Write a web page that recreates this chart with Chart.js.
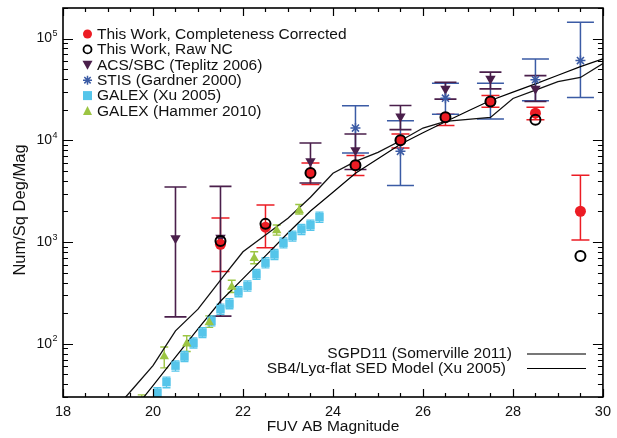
<!DOCTYPE html>
<html>
<head>
<meta charset="utf-8">
<script src="https://cdn.jsdelivr.net/npm/chart.js@4/dist/chart.umd.min.js"></script>
<style>
  html, body { margin: 0; padding: 0; background: #fff; }
</style>
</head>
<body>
<canvas id="numCounts" width="617" height="438"></canvas>
<script>
let fontFam = '"Liberation Sans", Arial, Helvetica, sans-serif';

// This work (FUV number counts)
let thisMag = [21.5, 22.5, 23.5, 24.5, 25.5, 26.5, 27.5, 28.5, 29.5];
let corrNC = [950, 1400, 4780, 5700, 10000, 16900, 24100, 18500, 2010];
let corrHi = [1720, 2310, 5985, 7080, 11530, 18100, 27600, 21100, 4540];
let corrLo = [515, 880, 3680, 4510, 8410, 14000, 21100, 15950, 1050];
let rawNC = [1025, 1510, 4780, 5700, 10000, 16900, 24100, 15950, 730];

// ACS/SBC (Teplitz 2006)
let acsMag = [20.5, 21.5, 23.5, 24.5, 25.5, 26.5, 27.5, 28.5];
let acsNC = [1090, 1100, 6220, 7980, 17200, 32100, 40300, 32100];
let acsHi = [3480, 3530, 9420, 11530, 22000, 37300, 46800, 43300];
let acsLo = [184, 187, 3810, 5170, 12740, 25400, 32100, 24100];

// STIS (Gardner 2000)
let stisMag = [24.5, 25.5, 26.5, 27.5, 28.5, 29.5];
let stisNC = [13200, 7800, 26000, 24000, 39400, 60800];
let stisHi = [21900, 15600, 36500, 36500, 63200, 144500];
let stisLo = [7520, 3600, 18100, 16200, 24500, 26400];

// GALEX (Xu 2005)
let xuMag = [20.1, 20.3, 20.5, 20.7, 20.9, 21.1, 21.3, 21.5, 21.7, 21.9, 22.1, 22.3, 22.5, 22.7, 22.9, 23.1, 23.3, 23.5, 23.7];
let xuNC = [33, 42, 61, 75, 102, 129, 168, 219, 248, 326, 371, 482, 627, 757, 984, 1146, 1333, 1469, 1758];
let xuHi = [37, 47, 68, 84, 114, 144, 188, 245, 278, 365, 415, 540, 702, 848, 1100, 1283, 1493, 1645, 1969];
let xuLo = [29, 37, 54, 67, 91, 115, 150, 195, 221, 290, 330, 429, 558, 674, 876, 1020, 1186, 1307, 1565];

// GALEX (Hammer 2010)
let hamMag = [19.75, 20.25, 20.75, 21.25, 21.75, 22.25, 22.75, 23.25];
let hamNC = [26, 75, 100, 162, 362, 692, 1300, 2040];
let hamHi = [31.5, 93, 120, 188, 422, 803, 1470, 2345];
let hamLo = [22, 58, 84, 145, 319, 612, 1170, 1890];

// model curves
let modelMag = [19, 19.5, 20, 20.5, 21, 21.5, 22, 22.5, 23, 23.5, 24, 24.5, 25, 25.5, 26, 26.5, 27, 27.5, 28, 28.5, 29, 29.5, 30];
let sgpd11 = [19, 34, 61, 134, 219, 423, 803, 1172, 1717, 2760, 4745, 6220, 7620, 9910, 13210, 15350, 16070, 16810, 25810, 31240, 37850, 41500, 56900];
let sb4 = [10.5, 20.5, 38.8, 73.8, 140, 262, 438, 733, 1228, 2018, 3090, 4745, 6590, 9140, 11890, 15240, 19450, 24660, 29780, 35950, 43650, 53100, 63200];

let xTicks = [18, 20, 22, 24, 26, 28, 30];
let yDecades = [2, 3, 4, 5];

let red = '#EC1C24';
let purple = '#4A1F4B';
let stisBlue = '#3B5BA5';
let xuBlue = '#55C5EA';
let green = '#9CC543';

function pts(xs, ys) {
  return xs.map((v, i) => ({ x: v, y: ys[i] }));
}

// vertical error bars with caps, placed through the y scale
const errorBars = {
  id: 'errorBars',
  beforeDatasetsDraw(chart) {
    const { ctx, chartArea: a } = chart;
    const y = chart.scales.y;
    ctx.save();
    ctx.beginPath();
    ctx.rect(a.left, a.top, a.width, a.height);
    ctx.clip();
    chart.data.datasets.forEach((ds, i) => {
      if (!ds.errHi) return;
      const meta = chart.getDatasetMeta(i);
      ctx.strokeStyle = ds.errColor;
      ctx.lineWidth = ds.errWidth;
      meta.data.forEach((pt, j) => {
        const yt = y.getPixelForValue(ds.errHi[j]);
        const yb = y.getPixelForValue(ds.errLo[j]);
        const h = ds.capHalf;
        ctx.beginPath();
        ctx.moveTo(pt.x, yt); ctx.lineTo(pt.x, yb);
        ctx.moveTo(pt.x - h, yt); ctx.lineTo(pt.x + h, yt);
        ctx.moveTo(pt.x - h, yb); ctx.lineTo(pt.x + h, yb);
        ctx.stroke();
      });
    });
    ctx.restore();
  }
};

function marker(ctx, kind, x, y) {
  ctx.save();
  ctx.beginPath();
  if (kind === 'dot') {
    ctx.fillStyle = red;
    ctx.arc(x, y, 4.5, 0, Math.PI * 2);
    ctx.fill();
  } else if (kind === 'ring') {
    ctx.strokeStyle = '#000'; ctx.lineWidth = 1.8;
    ctx.arc(x, y, 4, 0, Math.PI * 2);
    ctx.stroke();
  } else if (kind === 'down') {
    ctx.fillStyle = purple;
    ctx.moveTo(x - 5, y - 4); ctx.lineTo(x + 5, y - 4); ctx.lineTo(x, y + 5);
    ctx.closePath(); ctx.fill();
  } else if (kind === 'star') {
    ctx.strokeStyle = stisBlue; ctx.lineWidth = 1.5;
    for (let k = 0; k < 4; k++) {
      const an = k * Math.PI / 4;
      ctx.moveTo(x - 4.5 * Math.cos(an), y - 4.5 * Math.sin(an));
      ctx.lineTo(x + 4.5 * Math.cos(an), y + 4.5 * Math.sin(an));
    }
    ctx.stroke();
  } else if (kind === 'square') {
    ctx.fillStyle = xuBlue;
    ctx.fillRect(x - 4.5, y - 4.5, 9, 9);
  } else if (kind === 'up') {
    ctx.fillStyle = green;
    ctx.moveTo(x - 4.5, y + 4); ctx.lineTo(x + 4.5, y + 4); ctx.lineTo(x, y - 5);
    ctx.closePath(); ctx.fill();
  }
  ctx.restore();
}

// frame, inward ticks, y labels, axis titles and the two legends
const frameAndText = {
  id: 'frameAndText',
  afterDraw(chart) {
    const { ctx, chartArea: a } = chart;
    const x = chart.scales.x, y = chart.scales.y;
    ctx.save();
    ctx.strokeStyle = '#000';
    ctx.lineWidth = 1.2;
    ctx.beginPath();
    for (let m = x.min; m <= x.max; m += 0.5) {
      const px = Math.round(x.getPixelForValue(m)) + 0.5;
      const len = m % 2 === 0 ? 8 : 4;
      ctx.moveTo(px, a.bottom); ctx.lineTo(px, a.bottom - len);
      ctx.moveTo(px, a.top); ctx.lineTo(px, a.top + len);
    }
    for (let d = 1; d <= 5; d++) {
      for (let k = 1; k < 10; k++) {
        const v = k * Math.pow(10, d);
        if (v < y.min || v > y.max) continue;
        const py = Math.round(y.getPixelForValue(v)) + 0.5;
        const len = k === 1 ? 10 : 5;
        ctx.moveTo(a.left, py); ctx.lineTo(a.left + len, py);
        ctx.moveTo(a.right, py); ctx.lineTo(a.right - len, py);
      }
    }
    ctx.stroke();
    ctx.lineWidth = 1.6;
    ctx.strokeRect(a.left, a.top, a.width, a.height);

    // y tick labels 10^n
    ctx.fillStyle = '#111';
    yDecades.forEach(e => {
      const py = y.getPixelForValue(Math.pow(10, e));
      ctx.font = '14px ' + fontFam;
      ctx.textAlign = 'right';
      ctx.textBaseline = 'middle';
      ctx.fillText('10', 52, py);
      ctx.font = '9px ' + fontFam;
      ctx.textAlign = 'left';
      ctx.fillText(String(e), 52.5, py - 5);
    });

    // axis titles
    ctx.font = '15.5px ' + fontFam;
    ctx.textAlign = 'center';
    ctx.textBaseline = 'middle';
    ctx.fillText('FUV AB Magnitude', (a.left + a.right) / 2, 427);
    ctx.save();
    ctx.translate(20, 210);
    ctx.rotate(-Math.PI / 2);
    ctx.font = '16.5px ' + fontFam;
    ctx.fillText('Num/Sq Deg/Mag', 0, 0);
    ctx.restore();

    // symbol legend (top left)
    const rows = [
      ['dot', 'This Work, Completeness Corrected'],
      ['ring', 'This Work, Raw NC'],
      ['down', 'ACS/SBC (Teplitz 2006)'],
      ['star', 'STIS (Gardner 2000)'],
      ['square', 'GALEX (Xu 2005)'],
      ['up', 'GALEX (Hammer 2010)']
    ];
    ctx.textAlign = 'left';
    rows.forEach((r, i) => {
      const ry = 34 + i * 15.4;
      marker(ctx, r[0], 87.5, ry);
      ctx.fillStyle = '#111';
      ctx.fillText(r[1], 97, ry + 0.5);
    });

    // model legend (bottom right)
    ctx.textAlign = 'right';
    ctx.fillText('SGPD11 (Somerville 2011)', 512, 354);
    ctx.fillText('SB4/Ly\u03B1-flat SED Model (Xu 2005)', 506, 368.5);
    ctx.strokeStyle = '#777'; ctx.lineWidth = 2;
    ctx.beginPath(); ctx.moveTo(527, 354); ctx.lineTo(586, 354); ctx.stroke();
    ctx.strokeStyle = '#000'; ctx.lineWidth = 1.2;
    ctx.beginPath(); ctx.moveTo(527, 368.5); ctx.lineTo(586, 368.5); ctx.stroke();
    ctx.restore();
  }
};

let ctx = document.getElementById('numCounts').getContext('2d');

const numCounts = new Chart(ctx,
  {
    type: 'scatter',
    data:
    {
      datasets:
        [{
          label: 'This Work, Raw NC',
          data: pts(thisMag, rawNC),
          pointStyle: 'circle',
          pointRadius: 5,
          backgroundColor: 'rgba(0,0,0,0)',
          borderColor: '#000',
          borderWidth: 2
        },
        {
          label: 'This Work, Completeness Corrected',
          data: pts(thisMag, corrNC),
          pointStyle: 'circle',
          pointRadius: 5.5,
          backgroundColor: red,
          borderWidth: 0,
          errHi: corrHi, errLo: corrLo, errColor: red, errWidth: 1.5, capHalf: 9
        },
        {
          label: 'STIS (Gardner 2000)',
          data: pts(stisMag, stisNC),
          pointStyle: 'star',
          pointRadius: 5,
          borderColor: stisBlue,
          borderWidth: 1.5,
          errHi: stisHi, errLo: stisLo, errColor: stisBlue, errWidth: 1.5, capHalf: 13.5
        },
        {
          label: 'ACS/SBC (Teplitz 2006)',
          data: pts(acsMag, acsNC),
          pointStyle: 'triangle',
          rotation: 180,
          pointRadius: 6,
          backgroundColor: purple,
          borderColor: purple,
          borderWidth: 0,
          errHi: acsHi, errLo: acsLo, errColor: purple, errWidth: 1.6, capHalf: 11
        },
        {
          label: 'GALEX (Hammer 2010)',
          data: pts(hamMag, hamNC),
          pointStyle: 'triangle',
          pointRadius: 5.5,
          backgroundColor: green,
          borderWidth: 0,
          errHi: hamHi, errLo: hamLo, errColor: green, errWidth: 1.4, capHalf: 4
        },
        {
          label: 'GALEX (Xu 2005)',
          data: pts(xuMag, xuNC),
          pointStyle: 'rect',
          pointRadius: 6,
          backgroundColor: xuBlue,
          borderWidth: 0,
          errHi: xuHi, errLo: xuLo, errColor: xuBlue, errWidth: 1.3, capHalf: 4
        },
        {
          label: 'SGPD11 (Somerville 2011)',
          data: pts(modelMag, sgpd11),
          showLine: true,
          pointRadius: 0,
          borderColor: '#111',
          borderWidth: 1.3
        },
        {
          label: 'SB4/Lya-flat SED Model (Xu 2005)',
          data: pts(modelMag, sb4),
          showLine: true,
          pointRadius: 0,
          borderColor: '#000',
          borderWidth: 1.2
        }]
    },
    options:
    {
      responsive: false,
      animation: false,
      devicePixelRatio: 1,
      events: [],
      layout:
      {
        padding: { left: 0, right: 7, top: 8, bottom: 0 }
      },
      scales:
      {
        x:
        {
          type: 'linear',
          min: 18,
          max: 30,
          grid: { display: false, drawTicks: false },
          border: { display: false },
          ticks:
          {
            stepSize: 2,
            padding: 6,
            maxRotation: 0,
            color: '#111',
            font: { family: fontFam, size: 14.5 },
            callback: (v) => xTicks.includes(v) ? String(v) : ''
          },
          afterFit: (s) => { s.height = 41; }
        },
        y:
        {
          type: 'logarithmic',
          min: 30,
          max: 200000,
          grid: { display: false, drawTicks: false },
          border: { display: false },
          ticks: { display: false },
          afterFit: (s) => { s.width = 63; }
        }
      },
      plugins:
      {
        legend: { display: false },
        tooltip: { enabled: false }
      }
    },
    plugins: [errorBars, frameAndText]
  })
</script>
</body>
</html>
